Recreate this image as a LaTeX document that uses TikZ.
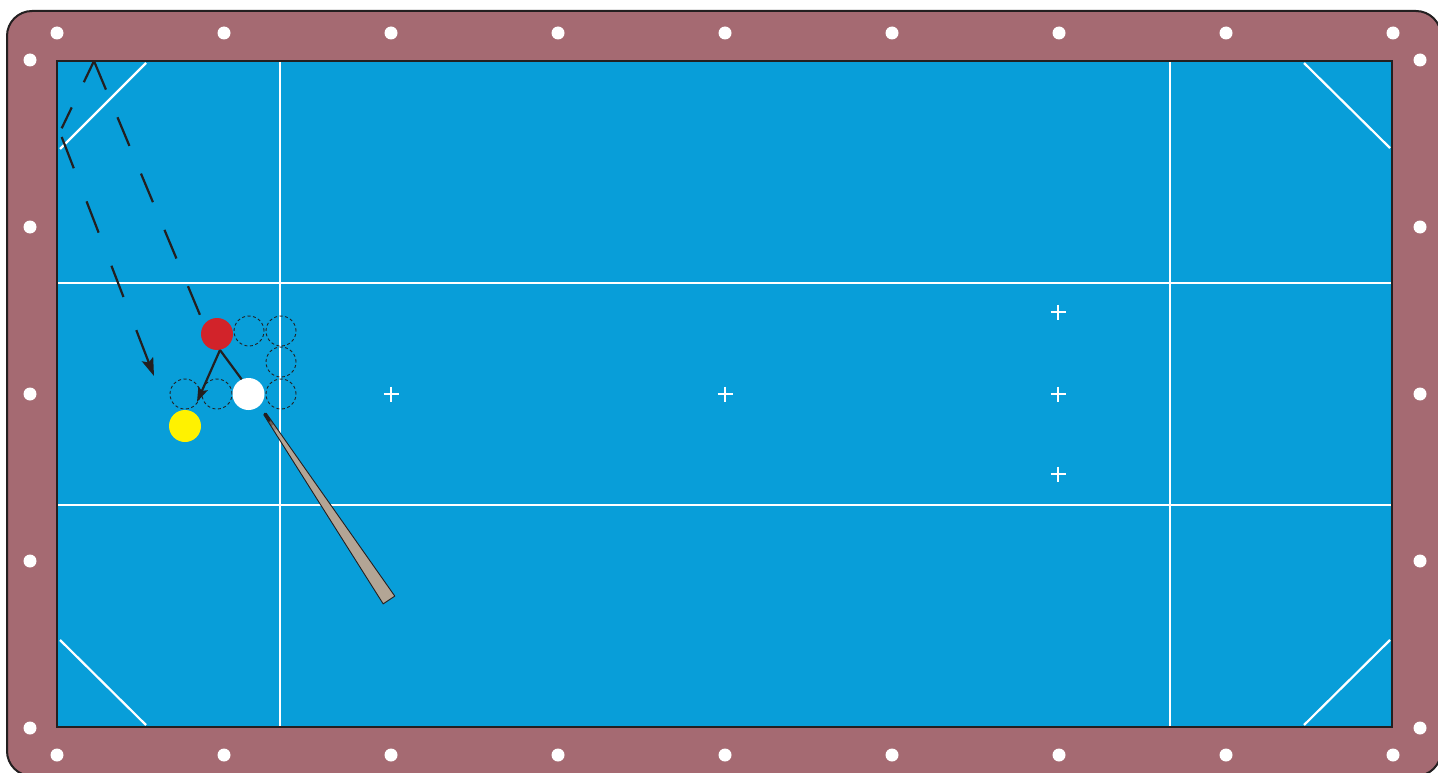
\documentclass[tikz,border=0pt]{standalone}
\usetikzlibrary{arrows.meta,calc}
\definecolor{rail}{HTML}{A56A72}
\definecolor{cloth}{HTML}{089ED9}
\definecolor{ink}{HTML}{231F20}
\definecolor{redball}{HTML}{D2232A}
\definecolor{yelball}{HTML}{FFF200}
\definecolor{cuecol}{HTML}{B3A595}
\tikzset{
  ball/.style={circle, inner sep=0pt, minimum size=32pt},
  ghost/.style={circle, inner sep=0pt, minimum size=30pt, draw=ink, line width=0.9pt, dash pattern=on 3pt off 2.5pt},
  mark line/.style={draw=white, line width=2.2pt},
  spot/.style={draw=white, line width=1.1pt},
  pathline/.style={draw=ink, line width=2.2pt},
  headtip/.style={-{Stealth[length=15pt,width=10pt,inset=3pt]}},
  bighead/.style={-{Stealth[length=18pt,width=12pt,inset=3.5pt]}}
}
\begin{document}
\begin{tikzpicture}[x=1pt,y=-1pt]
\useasboundingbox (0,0) rectangle (1438,773);
% rail
\begin{scope}
\clip (0,0) rectangle (1438,773);
\draw[fill=rail, draw=ink, line width=2pt, rounded corners=25pt] (7,11) rectangle (1441,776);
\end{scope}
% cloth
\fill[cloth] (57,61) rectangle (1392,727);
% markings
\draw[mark line] (280,61) -- (280,727);
\draw[mark line] (1170,61) -- (1170,727);
\draw[mark line] (57,283) -- (1392,283);
\draw[mark line] (57,505) -- (1392,505);
\draw[mark line] (60,149) -- (146,63);
\draw[mark line] (1304,63) -- (1390,148);
\draw[mark line] (60,640) -- (146,725);
\draw[mark line] (1304,725) -- (1390,640);
% spots
\foreach \x/\y in {391/394, 725/394, 1058/312, 1058/394, 1058/474}{
  \draw[spot] (\x-7.5,\y) -- (\x+7.5,\y);
  \draw[spot] (\x,\y-7.5) -- (\x,\y+7.5);
}
% table edge
\draw[ink, line width=2pt] (57,61) rectangle (1392,727);
% diamonds
\foreach \x in {57,224,391,558,725,892,1059,1226,1393}{
  \fill[white] (\x,33) circle[radius=6.5pt];
  \fill[white] (\x,755) circle[radius=6.5pt];
}
\foreach \y in {60,227,394,561,728}{
  \fill[white] (30,\y) circle[radius=6.5pt];
  \fill[white] (1420,\y) circle[radius=6.5pt];
}
% ghost positions
\node[ghost] (g1) at (249,331) {};
\node[ghost] (g2) at (281,331) {};
\node[ghost] (g3) at (281,362) {};
\node[ghost] (g4) at (281,394) {};
\node[ghost] (g5) at (185,394) {};
\node[ghost] (g6) at (217,394) {};
% balls
\node[ball, fill=redball] (red) at (217,334) {};
\node[ball, fill=white] (white) at (248.5,394) {};
\node[ball, fill=yelball] (yellow) at (185,426) {};
% cue
\coordinate (tipA) at (266.2,413.2);
\coordinate (tipB) at (263.8,414.8);
\coordinate (buttA) at (394.8,596.1);
\coordinate (buttB) at (383.2,603.9);
\draw[fill=cuecol, draw=ink, line width=0.9pt, line join=round] (tipA) -- (buttA) -- (buttB) -- (tipB) -- cycle;
\coordinate (tip) at (265,414);
\coordinate (butt) at (389,600);
\draw[ink, line width=3pt, line cap=round] (tip) -- ($(tip)!0.035!(butt)$);
\draw[ink, line width=3pt, opacity=0.5] ($(tip)!0.035!(butt)$) -- ($(tip)!0.06!(butt)$);
\draw[ink, line width=3pt, opacity=0.2] ($(tip)!0.06!(butt)$) -- ($(tip)!0.085!(butt)$);
% red ball paths
\coordinate (k) at (220,350);
\coordinate (hit) at (197,402);
\draw[pathline] (k) -- (white.115);
\draw[pathline, headtip] (k) -- (hit);
% cue ball route (dashed)
\coordinate (s0) at (200,315);
\coordinate (c1) at (94,61);
\coordinate (c2a) at (61.7,128.3);
\coordinate (c2b) at (61.7,137);
\coordinate (endp) at (154,376);
\draw[pathline, dash pattern=on 31pt off 30pt] (c1) -- (s0);
\draw[pathline, dash pattern=on 23.5pt off 28pt] (c1) -- (c2a);
\draw[pathline, dash pattern=on 33.5pt off 35.5pt] (c2b) -- ($(c2b)!0.79!(endp)$);
\draw[pathline, bighead] ($(c2b)!0.808!(endp)$) -- (endp);
\end{tikzpicture}
\end{document}
